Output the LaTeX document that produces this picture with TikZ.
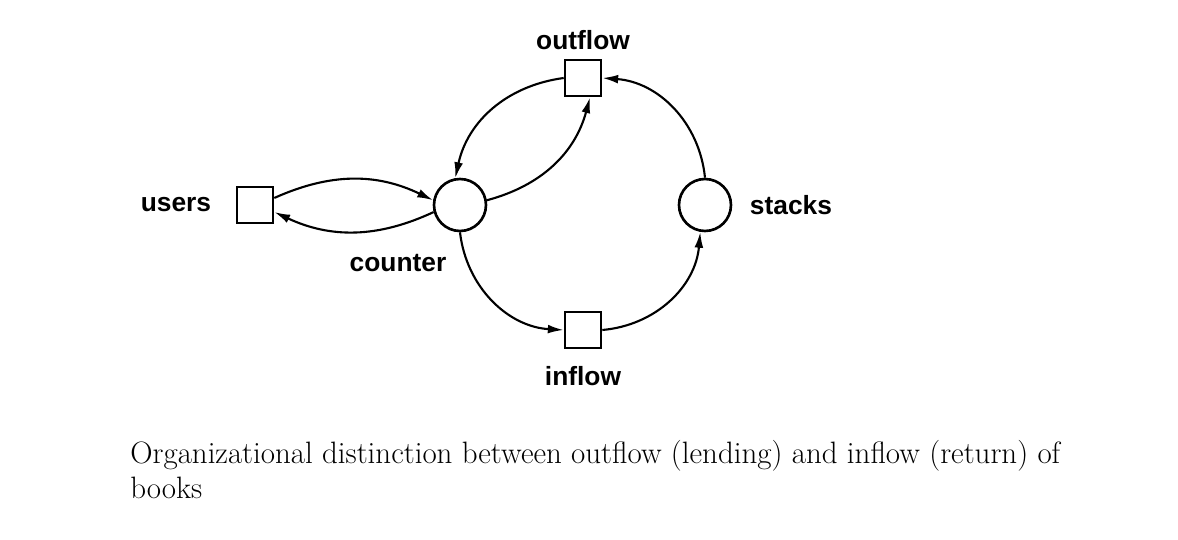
\documentclass[tikz,border=0pt]{standalone}
\usepackage{fontspec}
\usetikzlibrary{arrows.meta}
\newfontfamily\lab{Liberation Sans}
\begin{document}
\begin{tikzpicture}[x=0.02cm,y=-0.02cm,
  box/.style={draw,line width=1.5pt,minimum size=0.72cm,inner sep=0},
  circ/.style={draw,circle,line width=1.5pt,minimum size=1.04cm,inner sep=0},
  lbl/.style={font=\lab\bfseries\fontsize{15}{18}\selectfont},
  arr/.style={-{Latex[length=9pt,width=5pt]},line width=1.2pt}]
\useasboundingbox (0,0) rectangle (1178,540);
\node[box] (users) at (255,205) {};
\node[circ] (counter) at (460,205) {};
\node[box] (outflow) at (583,78) {};
\node[circ] (stacks) at (705,205) {};
\node[box] (inflow) at (583,330) {};
\node[lbl] at (176,205) {users};
\node[lbl] at (398,263) {counter};
\node[lbl] at (583,40) {outflow};
\node[lbl] at (791,205) {stacks};
\node[lbl] at (583,376) {inflow};
\draw[arr] (users.20) to[bend left=25] (counter.170);
\draw[arr] (counter.195) to[bend left=25] (users.-20);
\draw[arr] (counter.10) to[bend right=30] (outflow.-70);
\draw[arr] (outflow.180) to[bend right=35] (counter.100);
\draw[arr] (counter.-90) to[bend right=40] (inflow.180);
\draw[arr] (inflow.0) to[bend right=40] (stacks.-100);
\draw[arr] (stacks.90) to[bend right=40] (outflow.0);
\node[anchor=north west,align=left,font=\fontsize{17.6}{20}\selectfont,inner sep=0] (cap) at (130,440)
{Organizational distinction between outflow (lending) and inflow (return) of\\books};
\end{tikzpicture}
\end{document}
